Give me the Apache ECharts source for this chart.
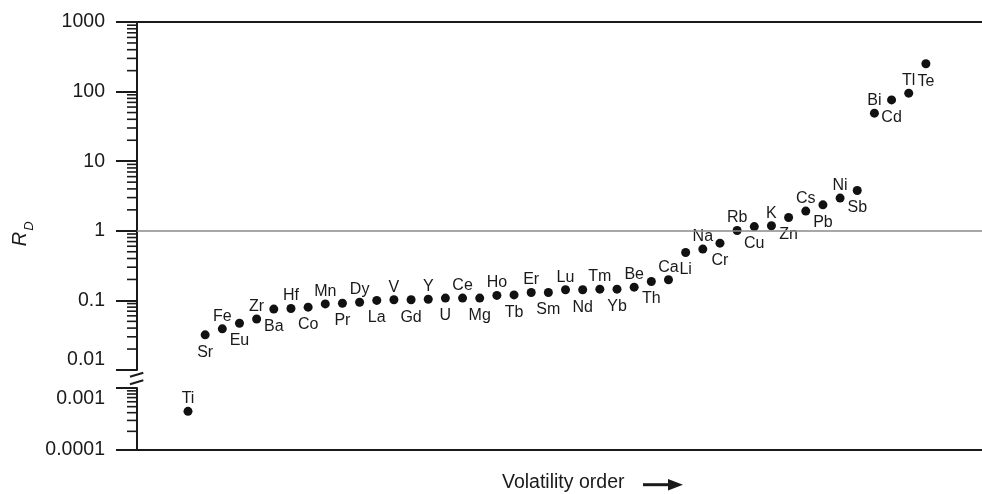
<!DOCTYPE html>
<html>
<head>
<meta charset="utf-8">
<script src="https://cdn.jsdelivr.net/npm/echarts@6/dist/echarts.min.js"></script>
<style>
html,body{margin:0;padding:0;background:#fff;}
#chart{width:982px;height:494px;}
</style>
</head>
<body>
<div id="chart"></div>
<script>
// Elements in volatility order
const elements = ['Ti','Sr','Fe','Eu','Zr','Ba','Hf','Co','Mn','Pr','Dy','La','V','Gd','Y','U','Ce','Mg','Ho','Tb','Er','Sm','Lu','Nd','Tm','Yb','Be','Th','Ca','Li','Na','Cr','Rb','Cu','K','Zn','Cs','Pb','Ni','Sb','Bi','Cd','Tl','Te'];
// R_D values
const rdValues = [0.00042,0.032,0.039,0.047,0.054,0.075,0.0765,0.080,0.089,0.091,0.094,0.100,0.102,0.102,0.104,0.108,0.108,0.108,0.118,0.120,0.130,0.130,0.142,0.142,0.145,0.145,0.155,0.187,0.198,0.488,0.546,0.665,1.01,1.15,1.18,1.55,1.92,2.36,2.95,3.79,49,76,95,251];
// Y tick labels
const yTickLabels = ['0.0001','0.001','0.01','0.1','1','10','100','1000'];
const xTitle = 'Volatility order';
const yTitleMain = 'R';
const yTitleSub = 'D';
const referenceLine = 1;

const FONT = 'Liberation Sans, Arial, Helvetica, sans-serif';
const INK = '#1a1a1a';

const BREAK = 0.005;
const upperData = [], lowerData = [];
elements.forEach((el, i) => {
  const item = {
    name: el,
    value: [i, rdValues[i]],
    label: i % 2 === 0 ? {position: 'top', distance: 0} : {position: 'bottom', distance: 5}
  };
  (rdValues[i] < BREAK ? lowerData : upperData).push(item);
});

function minorTicks(d0, d1) {
  const out = [];
  for (let d = d0; d < d1; d++) {
    for (let k = 2; k <= 9; k++) out.push([0, k * Math.pow(10, d)]);
  }
  return out;
}

function tickFormatter(v) {
  const s = yTickLabels.find(t => Math.abs(Math.log10(+t) - Math.log10(v)) < 1e-6);
  if (s === undefined) return '';
  if (s === '0.01') return '{up|' + s + '}';
  if (s === '0.001') return '{dn|' + s + '}';
  return '{n|' + s + '}';
}

const labelRich = {
  n: {fontFamily: FONT, fontSize: 19.5, color: INK},
  up: {fontFamily: FONT, fontSize: 19.5, color: INK, padding: [0, 0, 20, 0]},
  dn: {fontFamily: FONT, fontSize: 19.5, color: INK, padding: [22, 0, 0, 0]}
};

function yAxisCfg(gridIndex, min, max) {
  return {
    type: 'log', logBase: 10, gridIndex, min, max,
    axisLine: {show: true, onZero: false, lineStyle: {color: INK, width: 2}},
    axisTick: {show: true, inside: false, length: 21, lineStyle: {color: INK, width: 2}},
    axisLabel: {show: true, margin: 32, formatter: tickFormatter, rich: labelRich},
    splitLine: {show: false},
    minorTick: {show: false}
  };
}

function xAxisCfg(gridIndex, position) {
  return {
    type: 'value', gridIndex, position, min: -2.972, max: 46.27,
    axisLine: {show: true, onZero: false, lineStyle: {color: INK, width: 2}},
    axisTick: {show: false}, axisLabel: {show: false}, splitLine: {show: false}
  };
}

const tickRender = function (params, api) {
  const y = api.coord([0, api.value(1)])[1];
  const x0 = params.coordSys.x;
  return {type: 'line', shape: {x1: x0 - 10, y1: y, x2: x0, y2: y},
          style: {stroke: INK, lineWidth: 1.6}};
};

const pointLabel = {show: true, formatter: '{b}', fontFamily: FONT, fontSize: 16, color: INK, opacity: 1};

const chart = echarts.init(document.getElementById('chart'), null, {renderer: 'canvas'});
chart.setOption({
  animation: false,
  backgroundColor: '#fff',
  grid: [
    {left: 137, top: 22, right: 0, height: 348},
    {left: 137, top: 388, right: 0, height: 62}
  ],
  xAxis: [xAxisCfg(0, 'top'), xAxisCfg(1, 'bottom')],
  yAxis: [yAxisCfg(0, 0.01, 1000), yAxisCfg(1, 0.0001, 0.001)],
  series: [
    {
      type: 'scatter', xAxisIndex: 0, yAxisIndex: 0, data: upperData,
      symbol: 'circle', symbolSize: 9, itemStyle: {color: '#111', opacity: 1},
      label: pointLabel, silent: true, z: 3,
      markLine: {
        silent: true, symbol: ['none', 'none'], label: {show: false},
        lineStyle: {color: '#8a8a8a', width: 1.5, type: 'solid', opacity: 1},
        data: [{yAxis: referenceLine}]
      }
    },
    {
      type: 'scatter', xAxisIndex: 1, yAxisIndex: 1, data: lowerData,
      symbol: 'circle', symbolSize: 9, itemStyle: {color: '#111', opacity: 1},
      label: pointLabel, silent: true, z: 3
    },
    {type: 'custom', xAxisIndex: 0, yAxisIndex: 0, data: minorTicks(-2, 3), renderItem: tickRender, silent: true},
    {type: 'custom', xAxisIndex: 1, yAxisIndex: 1, data: minorTicks(-4, -3), renderItem: tickRender, silent: true}
  ],
  graphic: [
    {type: 'rect', shape: {x: 133, y: 371, width: 8, height: 16}, style: {fill: '#fff'}, z: 100},
    {type: 'line', shape: {x1: 130, y1: 376.7, x2: 143.3, y2: 372.7}, style: {stroke: INK, lineWidth: 2}, z: 101},
    {type: 'line', shape: {x1: 130, y1: 384.3, x2: 143.3, y2: 380.3}, style: {stroke: INK, lineWidth: 2}, z: 101},
    {type: 'text', x: 502, y: 483, style: {text: xTitle, font: '19.5px ' + FONT, fill: INK, verticalAlign: 'middle', align: 'left'}},
    {type: 'line', shape: {x1: 643, y1: 484.7, x2: 670, y2: 484.7}, style: {stroke: INK, lineWidth: 3}},
    {type: 'polygon', shape: {points: [[668, 479], [683, 484.7], [668, 490.5]]}, style: {fill: INK}},
    {type: 'text', x: 20, y: 239, rotation: Math.PI / 2, style: {text: yTitleMain, font: 'italic 20px ' + FONT, fill: INK, align: 'center', verticalAlign: 'middle'}},
    {type: 'text', x: 29, y: 226, rotation: Math.PI / 2, style: {text: yTitleSub, font: 'italic 13px ' + FONT, fill: INK, align: 'center', verticalAlign: 'middle'}}
  ]
});
</script>
</body>
</html>
